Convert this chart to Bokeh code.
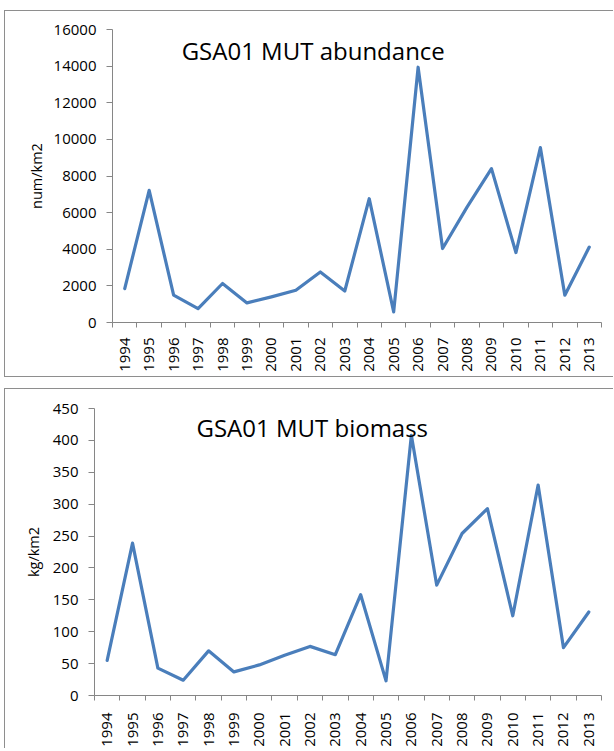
from math import pi
from bokeh.plotting import figure
from bokeh.models import Range1d, FixedTicker, Label
from bokeh.embed import file_html
from bokeh.resources import INLINE

# ---- data ----
years = ["1994", "1995", "1996", "1997", "1998", "1999", "2000", "2001", "2002", "2003",
         "2004", "2005", "2006", "2007", "2008", "2009", "2010", "2011", "2012", "2013"]
abundance = [1850, 7220, 1490, 760, 2130, 1070, 1400, 1760, 2760, 1720,
             6760, 580, 13940, 4040, 6300, 8400, 3820, 9550, 1490, 4120]
biomass = [55, 239, 43, 24, 70, 37, 48, 63, 77, 64,
           158, 23, 408, 173, 254, 293, 125, 330, 75, 131]
abundance_ticks = [0, 2000, 4000, 6000, 8000, 10000, 12000, 14000, 16000]
biomass_ticks = [0, 50, 100, 150, 200, 250, 300, 350, 400, 450]

LINE = "#4A7EBB"
AXIS = "#868686"
FONT = "Open Sans"


def build(vals, yticks, ylabel, title, title_x, title_y, w, h,
          mbl, mbr, mbt, mbb, margin, styles, ylabel_standoff, xstandoff):
    n = len(years)
    p = figure(width=w, height=h, output_backend="svg", toolbar_location=None,
               x_range=Range1d(-0.5, n - 0.5), y_range=Range1d(yticks[0], yticks[-1]),
               min_border_left=mbl, min_border_right=mbr,
               min_border_top=mbt, min_border_bottom=mbb,
               margin=margin, styles=styles)
    p.line(x=list(range(n)), y=vals, line_color=LINE, line_width=3.2,
           line_join="round", line_cap="round")
    p.xgrid.visible = False
    p.ygrid.visible = False
    p.outline_line_color = None
    p.background_fill_color = "white"
    p.border_fill_color = "white"

    xa = p.xaxis[0]
    xa.ticker = FixedTicker(ticks=list(range(n)),
                            minor_ticks=[i - 0.5 for i in range(n + 1)])
    xa.major_label_overrides = {i: y for i, y in enumerate(years)}
    xa.major_label_orientation = pi / 2
    xa.major_tick_line_color = None
    xa.major_tick_in = 0
    xa.major_tick_out = 0
    xa.minor_tick_in = 0
    xa.minor_tick_out = 5
    xa.minor_tick_line_color = AXIS
    xa.axis_line_color = AXIS
    xa.major_label_standoff = xstandoff
    xa.major_label_text_font = FONT
    xa.major_label_text_font_size = "15px"
    xa.major_label_text_color = "#000000"

    ya = p.yaxis[0]
    ya.ticker = FixedTicker(ticks=yticks)
    ya.minor_tick_line_color = None
    ya.major_tick_in = 0
    ya.major_tick_out = 6
    ya.major_tick_line_color = AXIS
    ya.axis_line_color = AXIS
    ya.major_label_standoff = 10
    ya.major_label_text_font = FONT
    ya.major_label_text_font_size = "15px"
    ya.major_label_text_color = "#000000"
    ya.axis_label = ylabel
    ya.axis_label_text_font = FONT
    ya.axis_label_text_font_size = "14.5px"
    ya.axis_label_text_font_style = "normal"
    ya.axis_label_text_color = "#000000"
    ya.axis_label_standoff = ylabel_standoff

    p.add_layout(Label(x=title_x, y=title_y, text=title, text_align="center",
                       text_baseline="alphabetic", text_font=FONT,
                       text_font_size="24px", text_color="#000000"))
    return p


BORDER = "1px solid #8e8e8e"
p1 = build(abundance, abundance_ticks, "num/km2", "GSA01 MUT abundance", 7.71, 14850,
           609, 367, 107, 13, 18, 56, (10, 0, 0, 4),
           {"border-left": BORDER, "border-top": BORDER, "border-bottom": BORDER}, 5, 10)
p2 = build(biomass, biomass_ticks, "kg/km2", "GSA01 MUT biomass", 8.09, 420,
           609, 360, 89, 13, 19, 49, (11, 0, 0, 4),
           {"border-left": BORDER, "border-top": BORDER}, 7, 12)

with open("out.html", "w") as f:
    f.write(file_html([p1, p2], INLINE))
